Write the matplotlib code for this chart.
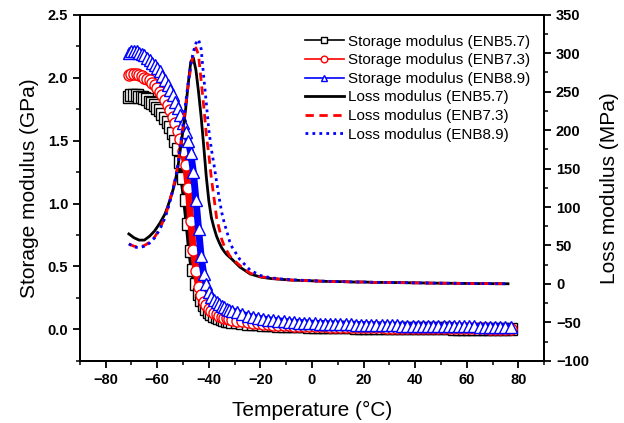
import matplotlib
matplotlib.use('Agg')
import matplotlib.pyplot as plt
from matplotlib.ticker import MultipleLocator, FormatStrFormatter

plt.rcParams['font.family'] = ['Liberation Sans', 'DejaVu Sans']

# temperatures of the storage modulus readings (1 degC steps in the transition, 2 degC after)
temp_storage = list(range(-71, -30)) + list(range(-29, 78, 2))

# storage modulus, GPa
storage_enb57 = [1.85, 1.86, 1.86, 1.86, 1.85, 1.85, 1.84, 1.83, 1.81, 1.80,
                 1.78, 1.76, 1.74, 1.71, 1.68, 1.65, 1.61, 1.56, 1.50, 1.43,
                 1.33, 1.20, 1.03, 0.84, 0.62, 0.47, 0.36, 0.28, 0.23, 0.19,
                 0.16, 0.14, 0.12, 0.11, 0.10, 0.09, 0.08, 0.075, 0.07, 0.065,
                 0.06,
                 0.055, 0.05, 0.045, 0.042, 0.039, 0.036, 0.034, 0.032, 0.030, 0.028,
                 0.027, 0.025, 0.024, 0.023, 0.022, 0.021, 0.020, 0.019, 0.018, 0.017,
                 0.016, 0.016, 0.015, 0.014, 0.014, 0.013, 0.013, 0.012, 0.012, 0.011,
                 0.011, 0.010, 0.010, 0.009, 0.009, 0.009, 0.008, 0.008, 0.008, 0.007,
                 0.007, 0.007, 0.006, 0.006, 0.006, 0.005, 0.005, 0.005, 0.004, 0.004,
                 0.004, 0.003, 0.003, 0.003]
storage_enb73 = [2.02, 2.03, 2.03, 2.03, 2.02, 2.01, 2.00, 1.99, 1.98, 1.96,
                 1.94, 1.92, 1.89, 1.86, 1.82, 1.78, 1.74, 1.69, 1.64, 1.58,
                 1.51, 1.42, 1.31, 1.12, 0.86, 0.63, 0.46, 0.34, 0.27, 0.22,
                 0.19, 0.165, 0.145, 0.13, 0.12, 0.11, 0.10, 0.093, 0.087, 0.082,
                 0.077,
                 0.07, 0.063, 0.057, 0.052, 0.048, 0.044, 0.041, 0.038, 0.036, 0.034,
                 0.032, 0.030, 0.029, 0.027, 0.026, 0.025, 0.024, 0.023, 0.022, 0.021,
                 0.020, 0.019, 0.019, 0.018, 0.017, 0.017, 0.016, 0.015, 0.015, 0.014,
                 0.014, 0.013, 0.013, 0.012, 0.012, 0.011, 0.011, 0.010, 0.010, 0.010,
                 0.009, 0.009, 0.009, 0.008, 0.008, 0.008, 0.007, 0.007, 0.007, 0.006,
                 0.006, 0.006, 0.005, 0.005]
storage_enb89 = [2.20, 2.21, 2.21, 2.21, 2.20, 2.19, 2.18, 2.16, 2.14, 2.12,
                 2.10, 2.08, 2.05, 2.01, 1.98, 1.94, 1.90, 1.86, 1.81, 1.76,
                 1.70, 1.64, 1.57, 1.50, 1.40, 1.25, 1.03, 0.80, 0.58, 0.44,
                 0.36, 0.30, 0.26, 0.235, 0.215, 0.20, 0.185, 0.175, 0.165, 0.155,
                 0.148,
                 0.135, 0.12, 0.107, 0.098, 0.09, 0.083, 0.077, 0.072, 0.068, 0.064,
                 0.060, 0.057, 0.054, 0.052, 0.050, 0.048, 0.046, 0.045, 0.043, 0.042,
                 0.041, 0.040, 0.039, 0.038, 0.037, 0.036, 0.035, 0.034, 0.033, 0.032,
                 0.032, 0.031, 0.030, 0.030, 0.029, 0.028, 0.028, 0.027, 0.027, 0.026,
                 0.026, 0.025, 0.025, 0.024, 0.024, 0.023, 0.023, 0.022, 0.022, 0.021,
                 0.021, 0.020, 0.020, 0.020]

# temperatures of the loss modulus readings
temp_loss = list(range(-71, -56, 2)) + list(range(-56, -30)) + list(range(-28, 77, 4))

# loss modulus, MPa
loss_enb57 = [65, 60, 57, 57, 62, 69, 79, 91,
              100, 110, 121, 134, 152, 176, 200, 227, 260, 289,
              294, 278, 250, 218, 180, 140, 108, 86, 73, 62,
              54, 47, 42, 38, 35, 32,
              22, 13, 9, 7, 6, 5, 4.5, 4, 3.5, 3, 3, 2.5, 2.5, 2,
              2, 1.8, 1.6, 1.4, 1.2, 1.0, 0.9, 0.8, 0.6, 0.5, 0.4, 0.3, 0.2]
loss_enb73 = [52, 49, 48, 50, 54, 61, 72, 87,
              98, 110, 123, 137, 155, 180, 205, 232, 258, 282,
              300, 307, 298, 265, 232, 195, 168, 137, 112, 86,
              72, 58, 49, 43, 37, 33,
              24, 14, 9.5, 7.5, 6, 5, 4.5, 4, 3.5, 3, 3, 2.5, 2.5, 2,
              2, 1.8, 1.6, 1.4, 1.2, 1.0, 0.9, 0.8, 0.6, 0.5, 0.4, 0.3, 0.2]
loss_enb89 = [52, 48, 47, 49, 53, 60, 71, 86,
              96, 108, 121, 136, 154, 180, 207, 235, 262, 285,
              302, 313, 318, 306, 270, 236, 200, 175, 155, 133,
              112, 93, 79, 68, 56, 48,
              32, 18, 11, 8, 6.5, 5.5, 4.8, 4.2, 3.7, 3.2, 3, 2.6, 2.5, 2.1,
              2, 1.8, 1.6, 1.4, 1.2, 1.0, 0.9, 0.8, 0.6, 0.5, 0.4, 0.3, 0.2]

fig = plt.figure(figsize=(6.24, 4.23), dpi=100)
ax1 = fig.add_axes([0.128, 0.147, 0.744, 0.818])
ax2 = ax1.twinx()

# storage modulus: dense hollow symbols on a thick band
handles = []
for vals, col, mk in [(storage_enb57, 'black', 's'),
                      (storage_enb73, 'red', 'o'),
                      (storage_enb89, 'blue', '^')]:
    ax1.plot(temp_storage, vals, color=col, lw=5, solid_capstyle='butt')
    h, = ax1.plot(temp_storage, vals, color=col, lw=1.2, marker=mk, ms=8,
                  mfc='white', mec=col, mew=1.0)
    handles.append(h)

h4, = ax2.plot(temp_loss, loss_enb57, color='black', lw=2)
h5, = ax2.plot(temp_loss, loss_enb73, color='red', lw=2, dashes=(3, 2))
h6, = ax2.plot(temp_loss, loss_enb89, color='blue', lw=2, dashes=(1, 1.5))
handles += [h4, h5, h6]

ax1.set_xlim(-90, 90)
ax1.set_ylim(-0.25, 2.5)
ax2.set_ylim(-100, 350)

ax1.xaxis.set_major_locator(MultipleLocator(20))
ax1.xaxis.set_minor_locator(MultipleLocator(10))
ax1.yaxis.set_major_locator(MultipleLocator(0.5))
ax1.yaxis.set_minor_locator(MultipleLocator(0.25))
ax1.yaxis.set_major_formatter(FormatStrFormatter('%.1f'))
ax2.yaxis.set_major_locator(MultipleLocator(50))
ax2.yaxis.set_minor_locator(MultipleLocator(25))

for ax in (ax1, ax2):
    for sp in ax.spines.values():
        sp.set_linewidth(1.3)
    ax.tick_params(which='major', direction='out', length=5, width=1.3, labelsize=10.5)
    ax.tick_params(which='minor', direction='out', length=3, width=1.1)
ax1.tick_params(top=False, right=False, which='both')

ax1.set_xlabel('Temperature (°C)', fontsize=15, labelpad=10)
ax1.set_ylabel('Storage modulus (GPa)', fontsize=15, labelpad=6)
ax2.set_ylabel('Loss modulus (MPa)', fontsize=15, labelpad=8)

leg = ax1.legend(handles,
                 ['Storage modulus (ENB5.7)', 'Storage modulus (ENB7.3)',
                  'Storage modulus (ENB8.9)', 'Loss modulus (ENB5.7)',
                  'Loss modulus (ENB7.3)', 'Loss modulus (ENB8.9)'],
                 loc='upper right', bbox_to_anchor=(0.85, 0.918),
                 bbox_transform=fig.transFigure, frameon=False, fontsize=11,
                 handlelength=2.5, handletextpad=0.3, labelspacing=0.3,
                 borderpad=0, borderaxespad=0, markerscale=0.6)
leg.set_zorder(10)

fig.canvas.draw()
for ax in (ax1, ax2):
    for lab in ax.get_xticklabels() + ax.get_yticklabels():
        lab.set_fontweight('bold')

fig.savefig('out.png', dpi=100)
